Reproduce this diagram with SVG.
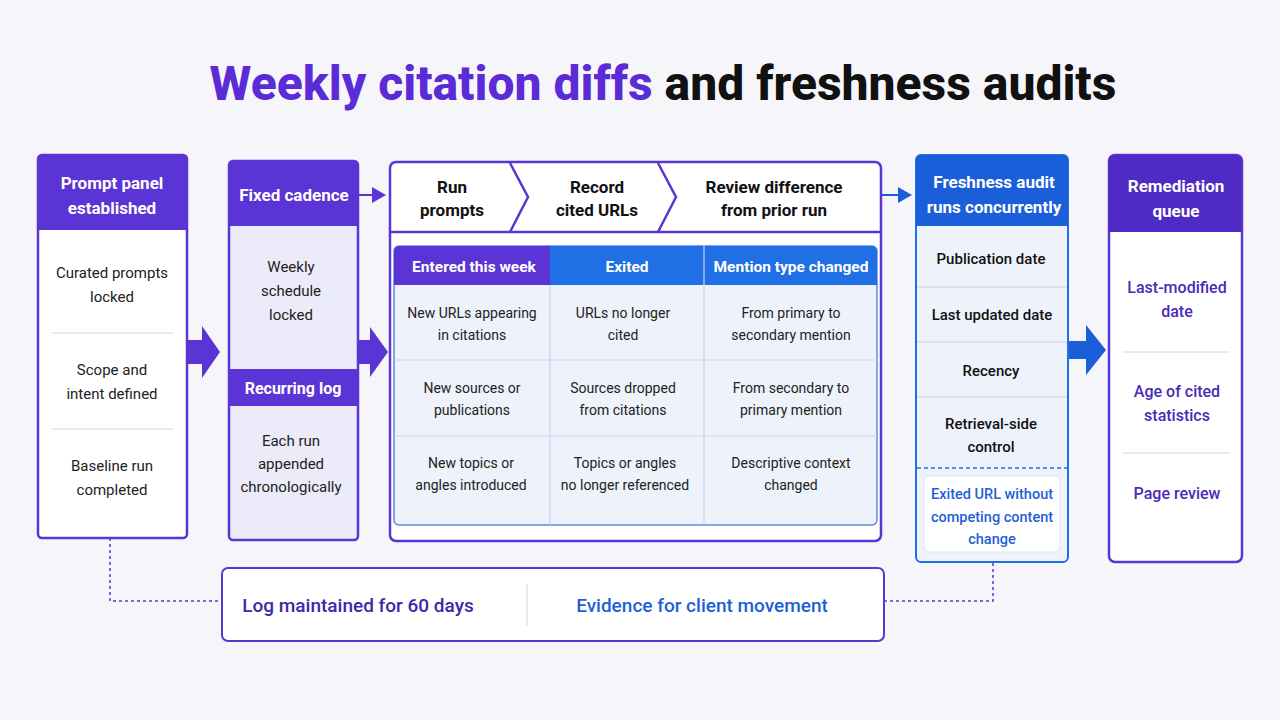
<svg xmlns="http://www.w3.org/2000/svg" width="1280" height="720" viewBox="0 0 1280 720">
<style>
text{font-family:Roboto,"Liberation Sans",sans-serif;text-anchor:middle}
.h{font-size:17px;font-weight:700;fill:#fff}
.b{font-size:15px;fill:#222}
.bb{font-size:15px;fill:#111;font-weight:500}
.pu{font-size:16px;fill:#4a2ab8;font-weight:500}
.bl{font-size:14.5px;fill:#1f5fd6;font-weight:500}
.div{stroke:#d4d4e0;stroke-width:1}
.cell{stroke:#c9d2f2;stroke-width:1.2}
</style>
<defs>
<marker id="ab" markerWidth="8" markerHeight="8" refX="6" refY="4" orient="auto"><path d="M0,0L7,4L0,8z" fill="#1a5fd9"/></marker>
<marker id="ap" markerWidth="8" markerHeight="8" refX="6" refY="4" orient="auto"><path d="M0,0L7,4L0,8z" fill="#5b34d6"/></marker>
</defs>
<rect width="1280" height="720" fill="#f6f6fa"/>
<text x="663" y="100" style="font-size:48px;font-weight:800;fill:#111"><tspan fill="#5b2bd6">Weekly citation diffs</tspan> and freshness audits</text>

<g id="connectors">
<path d="M188,340h14v-14l18,26l-18,26v-14h-14z" fill="#5b34d6"/>
<path d="M358,340h12v-13l18,25l-18,25v-13h-12z" fill="#5b34d6"/>
<line x1="358" y1="195" x2="384" y2="195" stroke="#5b34d6" stroke-width="2" marker-end="url(#ap)"/>
<line x1="881" y1="195" x2="910" y2="195" stroke="#1a5fd9" stroke-width="2" marker-end="url(#ab)"/>
<path d="M1068,341h18v-16l20,25l-20,25v-16h-18z" fill="#1a5fd9"/>
<path d="M110,538V601H222" fill="none" stroke="#5b34d6" stroke-width="1.5" stroke-dasharray="3,3"/>
<path d="M884,601H993V562" fill="none" stroke="#5b34d6" stroke-width="1.5" stroke-dasharray="3,3"/>
</g>

<g id="prompt-panel">
<rect x="38" y="155" width="149" height="383" rx="4" fill="#fff" stroke="#5b34d6" stroke-width="2.5"/>
<path d="M38,159a4,4 0 0 1 4,-4h141a4,4 0 0 1 4,4v71h-149z" fill="#5b34d6"/>
<text class="h" x="112" y="189">Prompt panel</text><text class="h" x="112" y="214">established</text>
<text class="b" x="112" y="278">Curated prompts</text><text class="b" x="112" y="302">locked</text>
<line class="div" x1="52" y1="333" x2="173" y2="333"/>
<text class="b" x="112" y="375">Scope and</text><text class="b" x="112" y="399">intent defined</text>
<line class="div" x1="52" y1="429" x2="173" y2="429"/>
<text class="b" x="112" y="471">Baseline run</text><text class="b" x="112" y="495">completed</text>
</g>

<g id="fixed-cadence">
<rect x="229" y="161" width="129" height="379" rx="4" fill="#ecebf9" stroke="#5b34d6" stroke-width="2.5"/>
<path d="M229,165a4,4 0 0 1 4,-4h121a4,4 0 0 1 4,4v61h-129z" fill="#5b34d6"/>
<text class="h" x="294" y="201">Fixed cadence</text>
<text class="b" x="291" y="272">Weekly</text><text class="b" x="291" y="296">schedule</text><text class="b" x="291" y="320">locked</text>
<rect x="229" y="369" width="129" height="37" fill="#5b34d6"/>
<text class="h" x="293" y="394" style="font-size:16px">Recurring log</text>
<text class="b" x="291" y="446">Each run</text><text class="b" x="291" y="469">appended</text><text class="b" x="291" y="492">chronologically</text>
</g>

<g id="diff-process">
<rect x="390" y="162" width="491" height="379" rx="6" fill="#fff" stroke="#5b34d6" stroke-width="2.5"/>
<path d="M390,232H881" stroke="#5b34d6" stroke-width="2.5"/>
<path d="M510,163l18,34l-18,35M658,163l18,34l-18,35" fill="none" stroke="#5b34d6" stroke-width="2.5"/>
<text class="bb" x="452" y="193" style="font-size:17px;font-weight:700">Run</text><text class="bb" x="452" y="216" style="font-size:17px;font-weight:700">prompts</text>
<text class="bb" x="597" y="193" style="font-size:17px;font-weight:700">Record</text><text class="bb" x="597" y="216" style="font-size:17px;font-weight:700">cited URLs</text>
<text class="bb" x="774" y="193" style="font-size:17px;font-weight:700">Review difference</text><text class="bb" x="774" y="216" style="font-size:17px;font-weight:700">from prior run</text>
</g>

<g id="diff-table">
<rect x="394" y="246" width="483" height="279" rx="5" fill="#eef2fb" stroke="#5b8be6" stroke-width="1.5"/>
<path d="M394,251a5,5 0 0 1 5,-5h151v39h-156z" fill="#5b34d6"/>
<path d="M550,246h322a5,5 0 0 1 5,5v34h-327z" fill="#1f6fe5"/>
<line class="cell" x1="550" y1="285" x2="550" y2="525"/>
<line class="cell" x1="704" y1="246" x2="704" y2="525"/>
<line class="cell" x1="394" y1="360" x2="877" y2="360"/>
<line class="cell" x1="394" y1="436" x2="877" y2="436"/>
<text class="h" x="474" y="272" style="font-size:15.5px">Entered this week</text>
<text class="h" x="627" y="272" style="font-size:15.5px">Exited</text>
<text class="h" x="791" y="272" style="font-size:15.5px">Mention type changed</text>
<text class="b" x="472" y="318" style="font-size:14px">New URLs appearing</text><text class="b" x="472" y="340" style="font-size:14px">in citations</text>
<text class="b" x="623" y="318" style="font-size:14px">URLs no longer</text><text class="b" x="623" y="340" style="font-size:14px">cited</text>
<text class="b" x="791" y="318" style="font-size:14px">From primary to</text><text class="b" x="791" y="340" style="font-size:14px">secondary mention</text>
<text class="b" x="472" y="393" style="font-size:14px">New sources or</text><text class="b" x="472" y="415" style="font-size:14px">publications</text>
<text class="b" x="623" y="393" style="font-size:14px">Sources dropped</text><text class="b" x="623" y="415" style="font-size:14px">from citations</text>
<text class="b" x="791" y="393" style="font-size:14px">From secondary to</text><text class="b" x="791" y="415" style="font-size:14px">primary mention</text>
<text class="b" x="471" y="468" style="font-size:14px">New topics or</text><text class="b" x="471" y="490" style="font-size:14px">angles introduced</text>
<text class="b" x="625" y="468" style="font-size:14px">Topics or angles</text><text class="b" x="625" y="490" style="font-size:14px">no longer referenced</text>
<text class="b" x="791" y="468" style="font-size:14px">Descriptive context</text><text class="b" x="791" y="490" style="font-size:14px">changed</text>
</g>

<g id="freshness-audit">
<rect x="916" y="155" width="152" height="407" rx="5" fill="#eef2fb" stroke="#1f6fe5" stroke-width="2"/>
<path d="M916,160a5,5 0 0 1 5,-5h142a5,5 0 0 1 5,5v66h-152z" fill="#1a5fd9"/>
<text class="h" x="994" y="188">Freshness audit</text><text class="h" x="994" y="213">runs concurrently</text>
<text class="bb" x="991" y="264">Publication date</text>
<line class="cell" x1="917" y1="287" x2="1067" y2="287"/>
<text class="bb" x="992" y="320">Last updated date</text>
<line class="cell" x1="917" y1="342" x2="1067" y2="342"/>
<text class="bb" x="991" y="376">Recency</text>
<line class="cell" x1="917" y1="397" x2="1067" y2="397"/>
<text class="bb" x="991" y="429">Retrieval-side</text><text class="bb" x="991" y="452">control</text>
<line x1="917" y1="468" x2="1067" y2="468" stroke="#1f6fe5" stroke-width="1.5" stroke-dasharray="4,3"/>
<rect x="924" y="476" width="136" height="76" rx="5" fill="#fff" stroke="#dde3f2"/>
<text class="bl" x="992" y="499">Exited URL without</text><text class="bl" x="992" y="522">competing content</text><text class="bl" x="992" y="544">change</text>
</g>

<g id="remediation-queue">
<rect x="1109" y="155" width="133" height="407" rx="6" fill="#fff" stroke="#5b34d6" stroke-width="2.5"/>
<path d="M1109,161a6,6 0 0 1 6,-6h121a6,6 0 0 1 6,6v71h-133z" fill="#4f2ac4"/>
<text class="h" x="1176" y="192">Remediation</text><text class="h" x="1176" y="217">queue</text>
<text class="pu" x="1177" y="293">Last-modified</text><text class="pu" x="1177" y="317">date</text>
<line class="div" x1="1123" y1="352" x2="1230" y2="352"/>
<text class="pu" x="1177" y="397">Age of cited</text><text class="pu" x="1177" y="421">statistics</text>
<line class="div" x1="1123" y1="453" x2="1230" y2="453"/>
<text class="pu" x="1177" y="499">Page review</text>
</g>

<g id="log-evidence">
<rect x="222" y="568" width="662" height="73" rx="6" fill="#fff" stroke="#5b34d6" stroke-width="2"/>
<line class="div" x1="527" y1="584" x2="527" y2="626"/>
<text x="358" y="612" style="font-size:19px;font-weight:500;fill:#3b2aa8">Log maintained for 60 days</text>
<text x="702" y="612" style="font-size:19px;font-weight:500;fill:#1f5fd6">Evidence for client movement</text>
</g>
</svg>
